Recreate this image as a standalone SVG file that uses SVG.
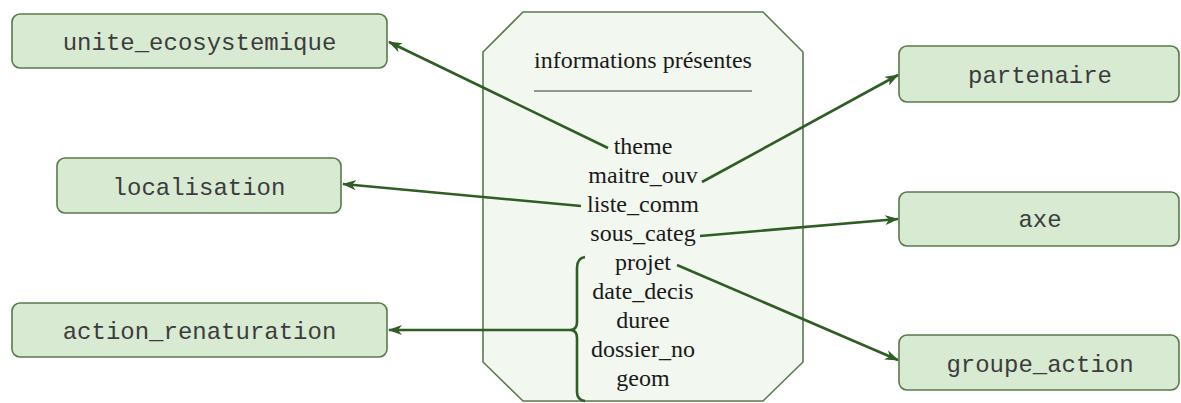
<svg xmlns="http://www.w3.org/2000/svg" width="1181" height="403" viewBox="0 0 1181 403">
<style>
.box{fill:#d8ead2;stroke:#587a4c;stroke-width:1.6}
.bt{font-family:"Liberation Mono",monospace;font-size:24px;fill:#3c3c3c;text-anchor:middle}
.st{font-family:"Liberation Serif",serif;font-size:24px;fill:#1a1a1a;text-anchor:middle}
.conn{fill:none;stroke:#2f5d24;stroke-width:2.6}
</style>
<defs>
<marker id="arr" viewBox="0 0 14 10" refX="13" refY="5" markerWidth="14" markerHeight="10" markerUnits="userSpaceOnUse" orient="auto">
<path d="M0,0 L14,5 L0,10 L4,5 Z" fill="#2f5d24"/>
</marker>
</defs>
<rect width="1181" height="403" fill="#ffffff"/>
<g id="info">
<path d="M523,12 L763,12 L803,52 L803,362 L763,401 L523,401 L483,362 L483,52 Z" fill="#f2f7ef" stroke="#5b7a4f" stroke-width="1.6"/>
<text class="st" x="643" y="68">informations présentes</text>
<line x1="534" y1="91" x2="752" y2="91" stroke="#333" stroke-width="1"/>
<text class="st" x="643" y="154">theme</text>
<text class="st" x="643" y="183">maitre_ouv</text>
<text class="st" x="643" y="212">liste_comm</text>
<text class="st" x="643" y="241">sous_categ</text>
<text class="st" x="643" y="270">projet</text>
<text class="st" x="643" y="299">date_decis</text>
<text class="st" x="643" y="328">duree</text>
<text class="st" x="643" y="357">dossier_no</text>
<text class="st" x="643" y="386">geom</text>
</g>
<g id="unite_ecosystemique"><rect class="box" x="12" y="14" width="375" height="54" rx="8"/><text class="bt" x="199.5" y="50">unite_ecosystemique</text></g>
<g id="localisation"><rect class="box" x="57" y="158" width="284" height="55" rx="8"/><text class="bt" x="199" y="195">localisation</text></g>
<g id="action_renaturation"><rect class="box" x="12" y="303" width="375" height="54" rx="8"/><text class="bt" x="199.5" y="339">action_renaturation</text></g>
<g id="partenaire"><rect class="box" x="899" y="46" width="280" height="56" rx="8"/><text class="bt" x="1040" y="83">partenaire</text></g>
<g id="axe"><rect class="box" x="899" y="192" width="280" height="54" rx="8"/><text class="bt" x="1040" y="227">axe</text></g>
<g id="groupe_action"><rect class="box" x="899" y="335" width="280" height="55" rx="8"/><text class="bt" x="1040" y="372">groupe_action</text></g>
<g id="connectors">
<path class="conn" d="M608,148 L389,42" marker-end="url(#arr)"/>
<path class="conn" d="M702,182 L898,75" marker-end="url(#arr)"/>
<path class="conn" d="M581,206 L343,184" marker-end="url(#arr)"/>
<path class="conn" d="M700,236 L898,219" marker-end="url(#arr)"/>
<path class="conn" d="M677,265 L898,360" marker-end="url(#arr)"/>
<path class="conn" d="M585,257 Q577,258 577,268 L577,322 Q577,330 570,330 Q577,330 577,338 L577,392 Q577,400 585,401"/>
<path class="conn" d="M570,330 L389,330" marker-end="url(#arr)"/>
</g>
</svg>
